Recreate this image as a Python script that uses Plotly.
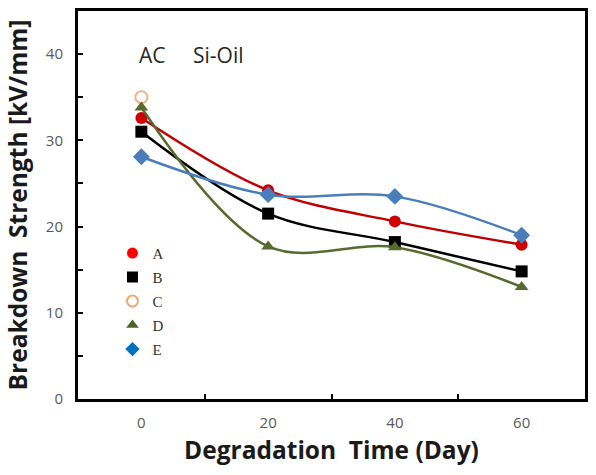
import plotly.graph_objects as go

days = [0, 20, 40, 60]
series_names = ["A", "B", "C", "D", "E"]
A_vals = [32.6, 24.2, 20.6, 17.9]
B_vals = [31.0, 21.5, 18.2, 14.8]
C_days = [0]
C_vals = [35.0]
D_vals = [33.8, 17.7, 17.6, 13.0]
E_vals = [28.1, 23.7, 23.5, 19.0]
x_tick_vals = [0, 20, 40, 60]
x_tick_text = ["0", "20", "40", "60"]

fig = go.Figure()

ser = [
    ("A", days, A_vals, "#C00000", "#D00000", "circle", "#FF0000"),
    ("B", days, B_vals, "#000000", "#000000", "square", "#000000"),
    ("C", C_days, C_vals, "#F4B183", "#F4B183", "circle-open", "#F0A870"),
    ("D", days, D_vals, "#556B2F", "#556B2F", "triangle-up", "#4F6228"),
    ("E", days, E_vals, "#4A7EBB", "#4A7EBB", "diamond", "#0070C0"),
]

for name, xs, ys, lc, mc, sym, legc in ser:
    mode = "lines+markers" if len(xs) > 1 else "markers"
    fig.add_trace(go.Scatter(
        x=xs, y=ys, mode=mode, name=name, showlegend=False,
        line=dict(color=lc, width=2.5, shape="spline", smoothing=1.0),
        marker=dict(symbol=sym, size=12 if sym != "diamond" else 13, color=mc,
                    line=dict(color=mc, width=2 if sym == "circle-open" else 0)),
        cliponaxis=False,
    ))

for name, xs, ys, lc, mc, sym, legc in ser:
    fig.add_trace(go.Scatter(
        x=[None], y=[None], mode="markers", name=name, legendgroup=name,
        marker=dict(symbol=sym, size=11, color=legc,
                    line=dict(color=legc, width=2 if sym == "circle-open" else 0)),
    ))

fig.add_annotation(x=1.8, y=39.9, xref="x", yref="y", text="AC", showarrow=False,
                   font=dict(family="Open Sans", size=21, color="#262626"))
fig.add_annotation(x=12.2, y=39.9, xref="x", yref="y", text="Si-Oil", showarrow=False,
                   font=dict(family="Open Sans", size=21, color="#262626"))

fig.update_layout(
    width=596, height=475,
    margin=dict(l=78, r=9, t=8, b=76),
    plot_bgcolor="white", paper_bgcolor="white",
    showlegend=True,
    legend=dict(x=0.068, y=0.418, xanchor="left", yanchor="top",
                bgcolor="rgba(0,0,0,0)", traceorder="grouped", tracegroupgap=1.5,
                font=dict(family="Liberation Serif", size=15, color="#333333"),
                itemsizing="trace"),
    xaxis=dict(
        range=[-10, 70], tickvals=x_tick_vals, ticktext=x_tick_text, ticks="",
        showgrid=False, zeroline=False, showline=True, linecolor="black", linewidth=3,
        mirror=True, ticklabelstandoff=8,
        tickfont=dict(family="Open Sans", size=15, color="#595959"),
        minor=dict(tickvals=[10, 30, 50], ticks="inside", ticklen=5, tickwidth=2,
                   tickcolor="black", showgrid=False),
        title=dict(text="<b>Degradation  Time (Day)</b>", standoff=11,
                   font=dict(family="Open Sans", size=24.5, color="#1a1a1a")),
    ),
    yaxis=dict(
        range=[0, 45], tickvals=[0, 10, 20, 30, 40], ticks="inside", ticklen=5,
        tickwidth=2, tickcolor="black",
        showgrid=False, zeroline=False, showline=True, linecolor="black", linewidth=3,
        mirror=True, ticklabelstandoff=9,
        tickfont=dict(family="Open Sans", size=15, color="#595959"),
        minor=dict(tickvals=[5, 15, 25, 35], ticks="inside", ticklen=5, tickwidth=2,
                   tickcolor="black", showgrid=False),
        title=dict(text="<b>Breakdown  Strength [kV/mm]</b>", standoff=12,
                   font=dict(family="Open Sans", size=24.5, color="#1a1a1a")),
    ),
)

fig.write_html("out.html")
